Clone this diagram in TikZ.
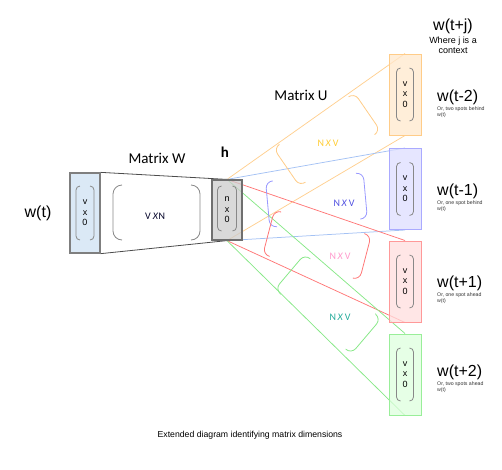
\documentclass[tikz,border=0pt]{standalone}
\usepackage{fontspec}
\setmainfont{Liberation Sans}
\newfontfamily\calibrilike{Carlito}
\usetikzlibrary{backgrounds}

\definecolor{inFill}{HTML}{CFE2F3}
\definecolor{inDraw}{HTML}{7F7F7F}
\definecolor{hFill}{HTML}{CCCCCC}
\definecolor{hDraw}{HTML}{6F6F6F}
\definecolor{oFill}{HTML}{FFE8CC}
\definecolor{oDraw}{HTML}{FFCC88}
\definecolor{oLine}{HTML}{FFCF90}
\definecolor{oText}{HTML}{FFCC33}
\definecolor{bFill}{HTML}{DDDDFF}
\definecolor{bDraw}{HTML}{AAAAFF}
\definecolor{bLine}{HTML}{A4C2F4}
\definecolor{bParen}{HTML}{9999FF}
\definecolor{bText}{HTML}{4F4FE0}
\definecolor{rFill}{HTML}{FFDDDD}
\definecolor{rDraw}{HTML}{FF9999}
\definecolor{rLine}{HTML}{FF7777}
\definecolor{rText}{HTML}{FF99CC}
\definecolor{gFill}{HTML}{DDFFDD}
\definecolor{gDraw}{HTML}{99EE99}
\definecolor{gLine}{HTML}{88E888}
\definecolor{gText}{HTML}{22AA99}
\definecolor{parenGray}{HTML}{888888}

\tikzset{%
  % Specifications for style of nodes:
        base/.style = {rectangle, draw=black, line width=1pt, align=center,
                       inner sep=0pt, font=\fontsize{9}{10.5}\selectfont,
                       fill opacity=0.75, text opacity=1},
       inbox/.style = {base, minimum width=30pt, minimum height=80pt,
                       fill=inFill, draw=inDraw, line width=1.3pt},
   hiddenbox/.style = {base, minimum width=30pt, minimum height=60pt,
                       fill=hFill, draw=hDraw, line width=1.2pt},
      ctxbox/.style = {base, minimum width=32pt, minimum height=81pt},
   wordlabel/.style = {inner sep=0pt, font=\fontsize{16}{18}\selectfont},
    matlabel/.style = {inner sep=0pt, font=\calibrilike\fontsize{15}{17}\selectfont},
   notelabel/.style = {inner sep=0pt, align=center, font=\fontsize{9}{10.5}\selectfont},
    tinynote/.style = {inner sep=0pt, align=left, anchor=north west,
                       font=\fontsize{5.2}{6.5}\selectfont, text=black!80},
         nxv/.style = {inner sep=0pt, font=\calibrilike\fontsize{10}{12}\selectfont},
    boxparen/.style = {color=parenGray, line width=0.8pt},
    midparen/.style = {line width=0.8pt},
       wline/.style = {draw=black!70, line width=0.8pt},
     ctxline/.style = {line width=0.75pt},
  pics/parens/.style n args={3}{code={
    \draw[rounded corners=#3pt] (-#1+#3,-#2) -- (-#1,-#2) -- (-#1,#2) -- (-#1+#3,#2);
    \draw[rounded corners=#3pt] (#1-#3,-#2) -- (#1,-#2) -- (#1,#2) -- (#1-#3,#2);
  }},
}

\begin{document}
\begin{tikzpicture}[x=1pt, y=-1pt]
\useasboundingbox (0,0) rectangle (502,469);

% word vectors
\node (inputword) at (85,213)    [inbox]                          {v\\x\\0};
\node (hidden)    at (227,210)   [hiddenbox]                      {n\\x\\0};
\node (wtmtwo)    at (405,94.5)  [ctxbox, fill=oFill, draw=oDraw] {v\\x\\0};
\node (wtmone)    at (405,189)   [ctxbox, fill=bFill, draw=bDraw] {v\\x\\0};
\node (wtpone)    at (405,281.5) [ctxbox, fill=rFill, draw=rDraw] {v\\x\\0};
\node (wtptwo)    at (405,374.5) [ctxbox, fill=gFill, draw=gDraw] {v\\x\\0};

\pic[boxparen] at (inputword) {parens={9}{27}{4}};
\pic[boxparen] at ([yshift=1.5pt]hidden.center) {parens={9.5}{22.5}{4}};
\pic[boxparen] at (wtmtwo) {parens={8.5}{26.5}{4}};
\pic[boxparen] at (wtmone) {parens={8.5}{26.5}{4}};
\pic[boxparen] at (wtpone) {parens={8.5}{26.5}{4}};
\pic[boxparen] at (wtptwo) {parens={8.5}{26.5}{4}};

% matrix W
\pic[boxparen] at (156.5,212.5) {parens={43.5}{27.5}{9}};
\node (vxn) at (155,216) [nxv, text=black!75!blue!60!black] {V\ \textit{X}N};

% matrix U, one per context word
\pic[midparen, color=oDraw, rotate=34.5] at (327,139.5) {parens={49}{23}{7}};
\pic[midparen, color=bParen, rotate=5.2] at (316.5,200) {parens={49}{23}{7}};
\pic[midparen, color=rLine, rotate=-14.6] at (317,245) {parens={50}{23}{7}};
\pic[midparen, color=gLine, rotate=-40.3] at (328,304) {parens={50}{23}{7}};
\node (nxvo) at (328,143) [nxv, text=oText] {N\,\textit{X}\,V};
\node (nxvb) at (344,203) [nxv, text=bText] {N\,\textit{X}\,V};
\node (nxvr) at (340,256) [nxv, text=rText] {N\,\textit{X}\,V};
\node (nxvg) at (340,317) [nxv, text=gText] {N\,\textit{X}\,V};

% labels
\node (wtlabel) at (38,213) [wordlabel] {w(t)};
\node (matW)    at (157,158) [matlabel] {Matrix W};
\node (hlabel)  at (225,152) [matlabel, font=\calibrilike\bfseries\fontsize{15}{17}\selectfont] {h};
\node (matU)    at (301,95) [matlabel] {Matrix U};
\node (ctxhead) at (453,26) [wordlabel] {w(t+j)};
\node (ctxnote) at (453,45.5) [notelabel] {Where j is a\\context};

\node (lblmtwo) at (437,97)  [wordlabel, anchor=west] {w(t-2)};
\node (lblmone) at (437,191) [wordlabel, anchor=west] {w(t-1)};
\node (lblpone) at (437,283) [wordlabel, anchor=west] {w(t+1)};
\node (lblptwo) at (437,372) [wordlabel, anchor=west] {w(t+2)};
\node at ([yshift=-1.5pt]lblmtwo.south west) [tinynote] {Or, two spots behind\\w(t)};
\node at ([yshift=-1.5pt]lblmone.south west) [tinynote] {Or, one spot behind\\w(t)};
\node at ([yshift=-1.5pt]lblpone.south west) [tinynote] {Or, one spot ahead\\w(t)};
\node at ([yshift=-1.5pt]lblptwo.south west) [tinynote] {Or, two spots ahead\\w(t)};

\node (caption) at (250,435) [inner sep=0pt, font=\fontsize{8.7}{10}\selectfont]
      {Extended diagram identifying matrix dimensions};

\begin{pgfonlayer}{background}
\draw[wline] (inputword.north east) -- (hidden.north);
\draw[wline] (inputword.south east) -- (hidden.south);

\draw[ctxline, oLine] (hidden.north) -- (wtmtwo.north);
\draw[ctxline, oLine] (hidden.south) -- (wtmtwo.south);
\draw[ctxline, bLine] (hidden.north) -- (wtmone.north);
\draw[ctxline, bLine] (hidden.south) -- (wtmone.south);
\draw[ctxline, rLine] (hidden.north) -- (wtpone.north);
\draw[ctxline, rLine] (hidden.south) -- (wtpone.south);
\draw[ctxline, gLine] (hidden.north) -- (wtptwo.north);
\draw[ctxline, gLine] (hidden.south) -- (wtptwo.south);
\end{pgfonlayer}
\end{tikzpicture}
\end{document}
